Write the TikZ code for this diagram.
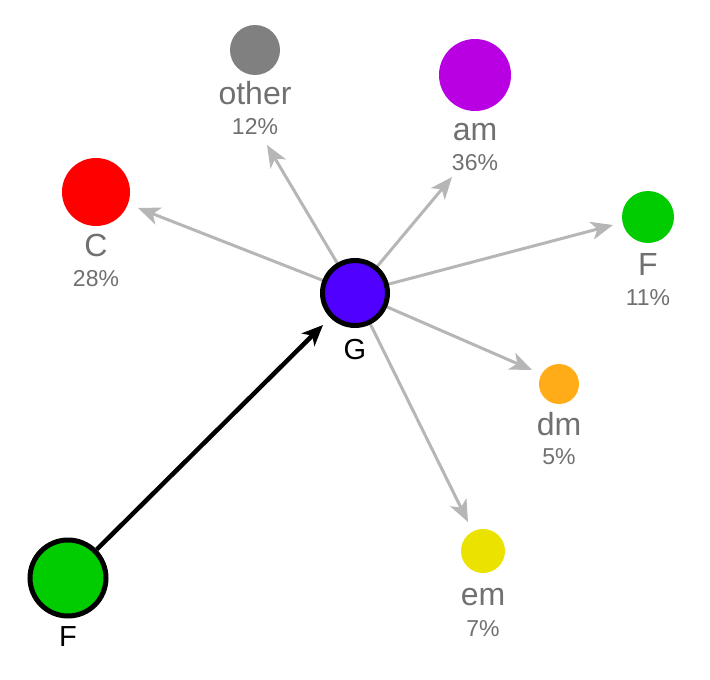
\documentclass[tikz,border=0pt]{standalone}
\usepackage{fontspec}
\setmainfont{Liberation Sans}
\usetikzlibrary{arrows.meta}

\definecolor{chordG}{RGB}{80,0,255}
\definecolor{chordF}{RGB}{0,204,0}
\definecolor{chordC}{RGB}{255,0,0}
\definecolor{chordAm}{RGB}{184,0,226}
\definecolor{chordDm}{RGB}{255,172,24}
\definecolor{chordEm}{RGB}{236,226,0}
\definecolor{chordOther}{RGB}{128,128,128}
\definecolor{nextgray}{RGB}{182,182,182}
\definecolor{labelgray}{RGB}{112,112,112}

\tikzset{
  chord/.style={circle, inner sep=0pt, minimum size=#1},
  current/.style={circle, draw=black, line width=5pt, inner sep=0pt, minimum size=#1},
  chordname/.style={anchor=base, text=labelgray, font=\fontsize{32}{32}\selectfont},
  chordshare/.style={anchor=base, text=labelgray, font=\fontsize{23}{23}\selectfont},
  bigname/.style={anchor=base, font=\fontsize{29}{29}\selectfont},
  nextchord/.style={draw=nextgray, line width=3pt, -{Stealth[length=22pt,width=18pt,inset=6pt]}},
  prevchord/.style={draw=black, line width=4.5pt, -{Stealth[length=21pt,width=18pt,inset=6pt]}}
}

\begin{document}
\begin{tikzpicture}[x=1pt, y=-1pt]
\useasboundingbox (0,0) rectangle (710,680);
% next chords around G
\node[chord=68pt, fill=chordC] (C) at (96,192) {};
\node[chordname] (Cname) at ([yshift=-30pt]C.south) {C};
\node[chordshare] (Cshare) at ([yshift=-30pt]Cname.base) {28\%};
\node[chord=50pt, fill=chordOther] (other) at (255,50) {};
\node[chordname] (othername) at ([yshift=-29pt]other.south) {other};
\node[chordshare] (othershare) at ([yshift=-30pt]othername.base) {12\%};
\node[chord=72pt, fill=chordAm] (am) at (475,75) {};
\node[chordname] (amname) at ([yshift=-29pt]am.south) {am};
\node[chordshare] (amshare) at ([yshift=-30pt]amname.base) {36\%};
\node[chord=52pt, fill=chordF] (Fnext) at (648,217) {};
\node[chordname] (Fnextname) at ([yshift=-32pt]Fnext.south) {F};
\node[chordshare] (Fnextshare) at ([yshift=-30pt]Fnextname.base) {11\%};
\node[chord=40pt, fill=chordDm] (dm) at (559,384) {};
\node[chordname] (dmname) at ([yshift=-31pt]dm.south) {dm};
\node[chordshare] (dmshare) at ([yshift=-29pt]dmname.base) {5\%};
\node[chord=44pt, fill=chordEm] (em) at (483,551) {};
\node[chordname] (emname) at ([yshift=-32pt]em.south) {em};
\node[chordshare] (emshare) at ([yshift=-31pt]emname.base) {7\%};
% arrow tips
\coordinate (toC) at (138,208);
\coordinate (toOther) at (267,145);
\coordinate (toAm) at (452,177);
\coordinate (toF) at (613,225);
\coordinate (toDm) at (532,370);
\coordinate (toEm) at (468,522);
\coordinate (toG) at (323,325);
\coordinate (Gc) at (355,293);
\draw[nextchord] (Gc) -- (toC);
\draw[nextchord] (Gc) -- (toOther);
\draw[nextchord] (Gc) -- (toAm);
\draw[nextchord] (Gc) -- (toF);
\draw[nextchord] (Gc) -- (toDm);
\draw[nextchord] (Gc) -- (toEm);
% current chord and the one before it
\node[current=65pt, fill=chordG] (G) at (Gc) {};
\node[bigname] (Gname) at ([yshift=-31pt]G.south) {G};
\node[current=76pt, fill=chordF] (Fprev) at (68,578) {};
\node[bigname] (Fprevname) at ([yshift=-28pt]Fprev.south) {F};
\draw[prevchord] (Fprev) -- (toG);
\end{tikzpicture}
\end{document}
